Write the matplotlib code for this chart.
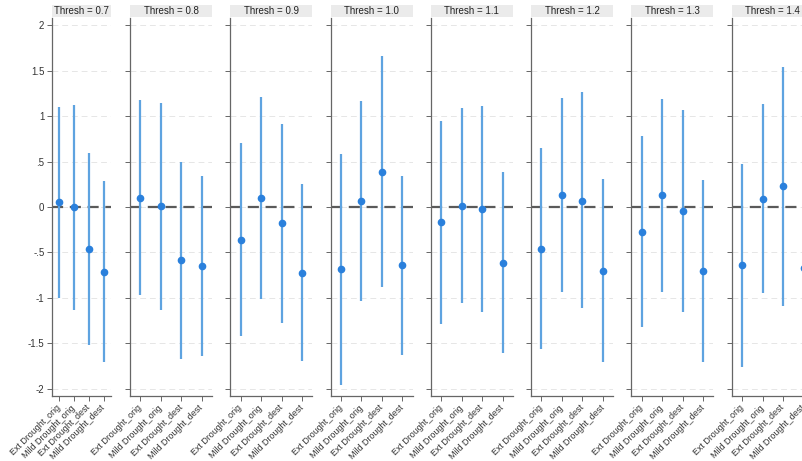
import matplotlib.pyplot as plt
from matplotlib.patches import Rectangle

plt.rcParams['font.family'] = ['Liberation Sans', 'DejaVu Sans']

thresholds = ["0.7", "0.8", "0.9", "1.0", "1.1", "1.2", "1.3", "1.4"]
categories = ["Ext Drought_orig", "Mild Drought_orig", "Ext Drought_dest", "Mild Drought_dest"]

# point estimates, one list per threshold
coef = [
    [0.05, 0.00, -0.46, -0.71],
    [0.10, 0.01, -0.58, -0.65],
    [-0.36, 0.10, -0.18, -0.72],
    [-0.68, 0.066, 0.39, -0.64],
    [-0.17, 0.01, -0.02, -0.62],
    [-0.46, 0.13, 0.07, -0.70],
    [-0.27, 0.13, -0.04, -0.70],
    [-0.64, 0.09, 0.23, -0.67],
]
ci_low = [
    [-1.00, -1.13, -1.52, -1.70],
    [-0.97, -1.13, -1.67, -1.64],
    [-1.42, -1.01, -1.27, -1.69],
    [-1.96, -1.03, -0.88, -1.63],
    [-1.29, -1.06, -1.15, -1.60],
    [-1.56, -0.93, -1.11, -1.70],
    [-1.32, -0.93, -1.15, -1.70],
    [-1.76, -0.95, -1.09, -1.67],
]
ci_high = [
    [1.10, 1.12, 0.59, 0.29],
    [1.18, 1.14, 0.50, 0.34],
    [0.70, 1.21, 0.91, 0.25],
    [0.58, 1.16, 1.66, 0.34],
    [0.95, 1.09, 1.11, 0.38],
    [0.65, 1.20, 1.26, 0.31],
    [0.78, 1.19, 1.07, 0.30],
    [0.47, 1.13, 1.54, 0.33],
]
yticks = [-2, -1.5, -1, -0.5, 0, 0.5, 1, 1.5, 2]
ytick_labels = ["-2", "-1.5", "-1", "-.5", "0", ".5", "1", "1.5", "2"]

W, H = 803, 461
fig = plt.figure(figsize=(W / 100, H / 100), dpi=100)

ax_bottom = (H - 396) / H
ax_height = (396 - 18) / H
xs = [1, 2, 3, 4]

for i, th in enumerate(thresholds):
    if i == 0:
        left_px, width_px = 52, 59
    else:
        left_px, width_px = 130 + (i - 1) * 100.3, 82
    ax = fig.add_axes([left_px / W, ax_bottom, width_px / W, ax_height])

    for y in yticks:
        ax.axhline(y, color='#e6e6e6', linestyle=(0, (6, 4)), linewidth=0.7, zorder=0)
    ax.axhline(0, color='#5a5a5a', linestyle=(0, (5, 3)), linewidth=1.6, zorder=1)

    ax.vlines(xs, ci_low[i], ci_high[i], color='#5ea3e0', linewidth=1.6, zorder=2)
    ax.plot(xs, coef[i], 'o', color='#2a80dc', markersize=4.5, zorder=3)

    ax.set_xlim(0.5, 4.5)
    ax.set_ylim(-2.077, 2.077)
    ax.set_yticks(yticks)
    if i == 0:
        ax.set_yticklabels(ytick_labels, fontsize=7, color='#333333')
    else:
        ax.set_yticklabels([])
    ax.set_xticks(xs)
    ax.set_xticklabels(categories, rotation=45, ha='right', va='center',
                       rotation_mode='anchor', fontsize=6.4, color='#333333')
    ax.tick_params(axis='both', length=3.5, width=0.7, color='#666666', pad=2)
    ax.tick_params(axis='x', pad=4)
    for s in ['top', 'right']:
        ax.spines[s].set_visible(False)
    for s in ['left', 'bottom']:
        ax.spines[s].set_color('#666666')
        ax.spines[s].set_linewidth(0.9)

    # strip title box
    tb = fig.add_axes([left_px / W, (H - 17) / H, width_px / W, 12 / H])
    tb.add_patch(Rectangle((0, 0), 1, 1, facecolor='#ebebeb', edgecolor='none',
                           transform=tb.transAxes))
    tb.text(0.5, 0.5, "Thresh = " + th, ha='center', va='center', fontsize=7,
            color='#222222', transform=tb.transAxes)
    tb.set_axis_off()

fig.savefig("out.png", dpi=100, facecolor='white')
